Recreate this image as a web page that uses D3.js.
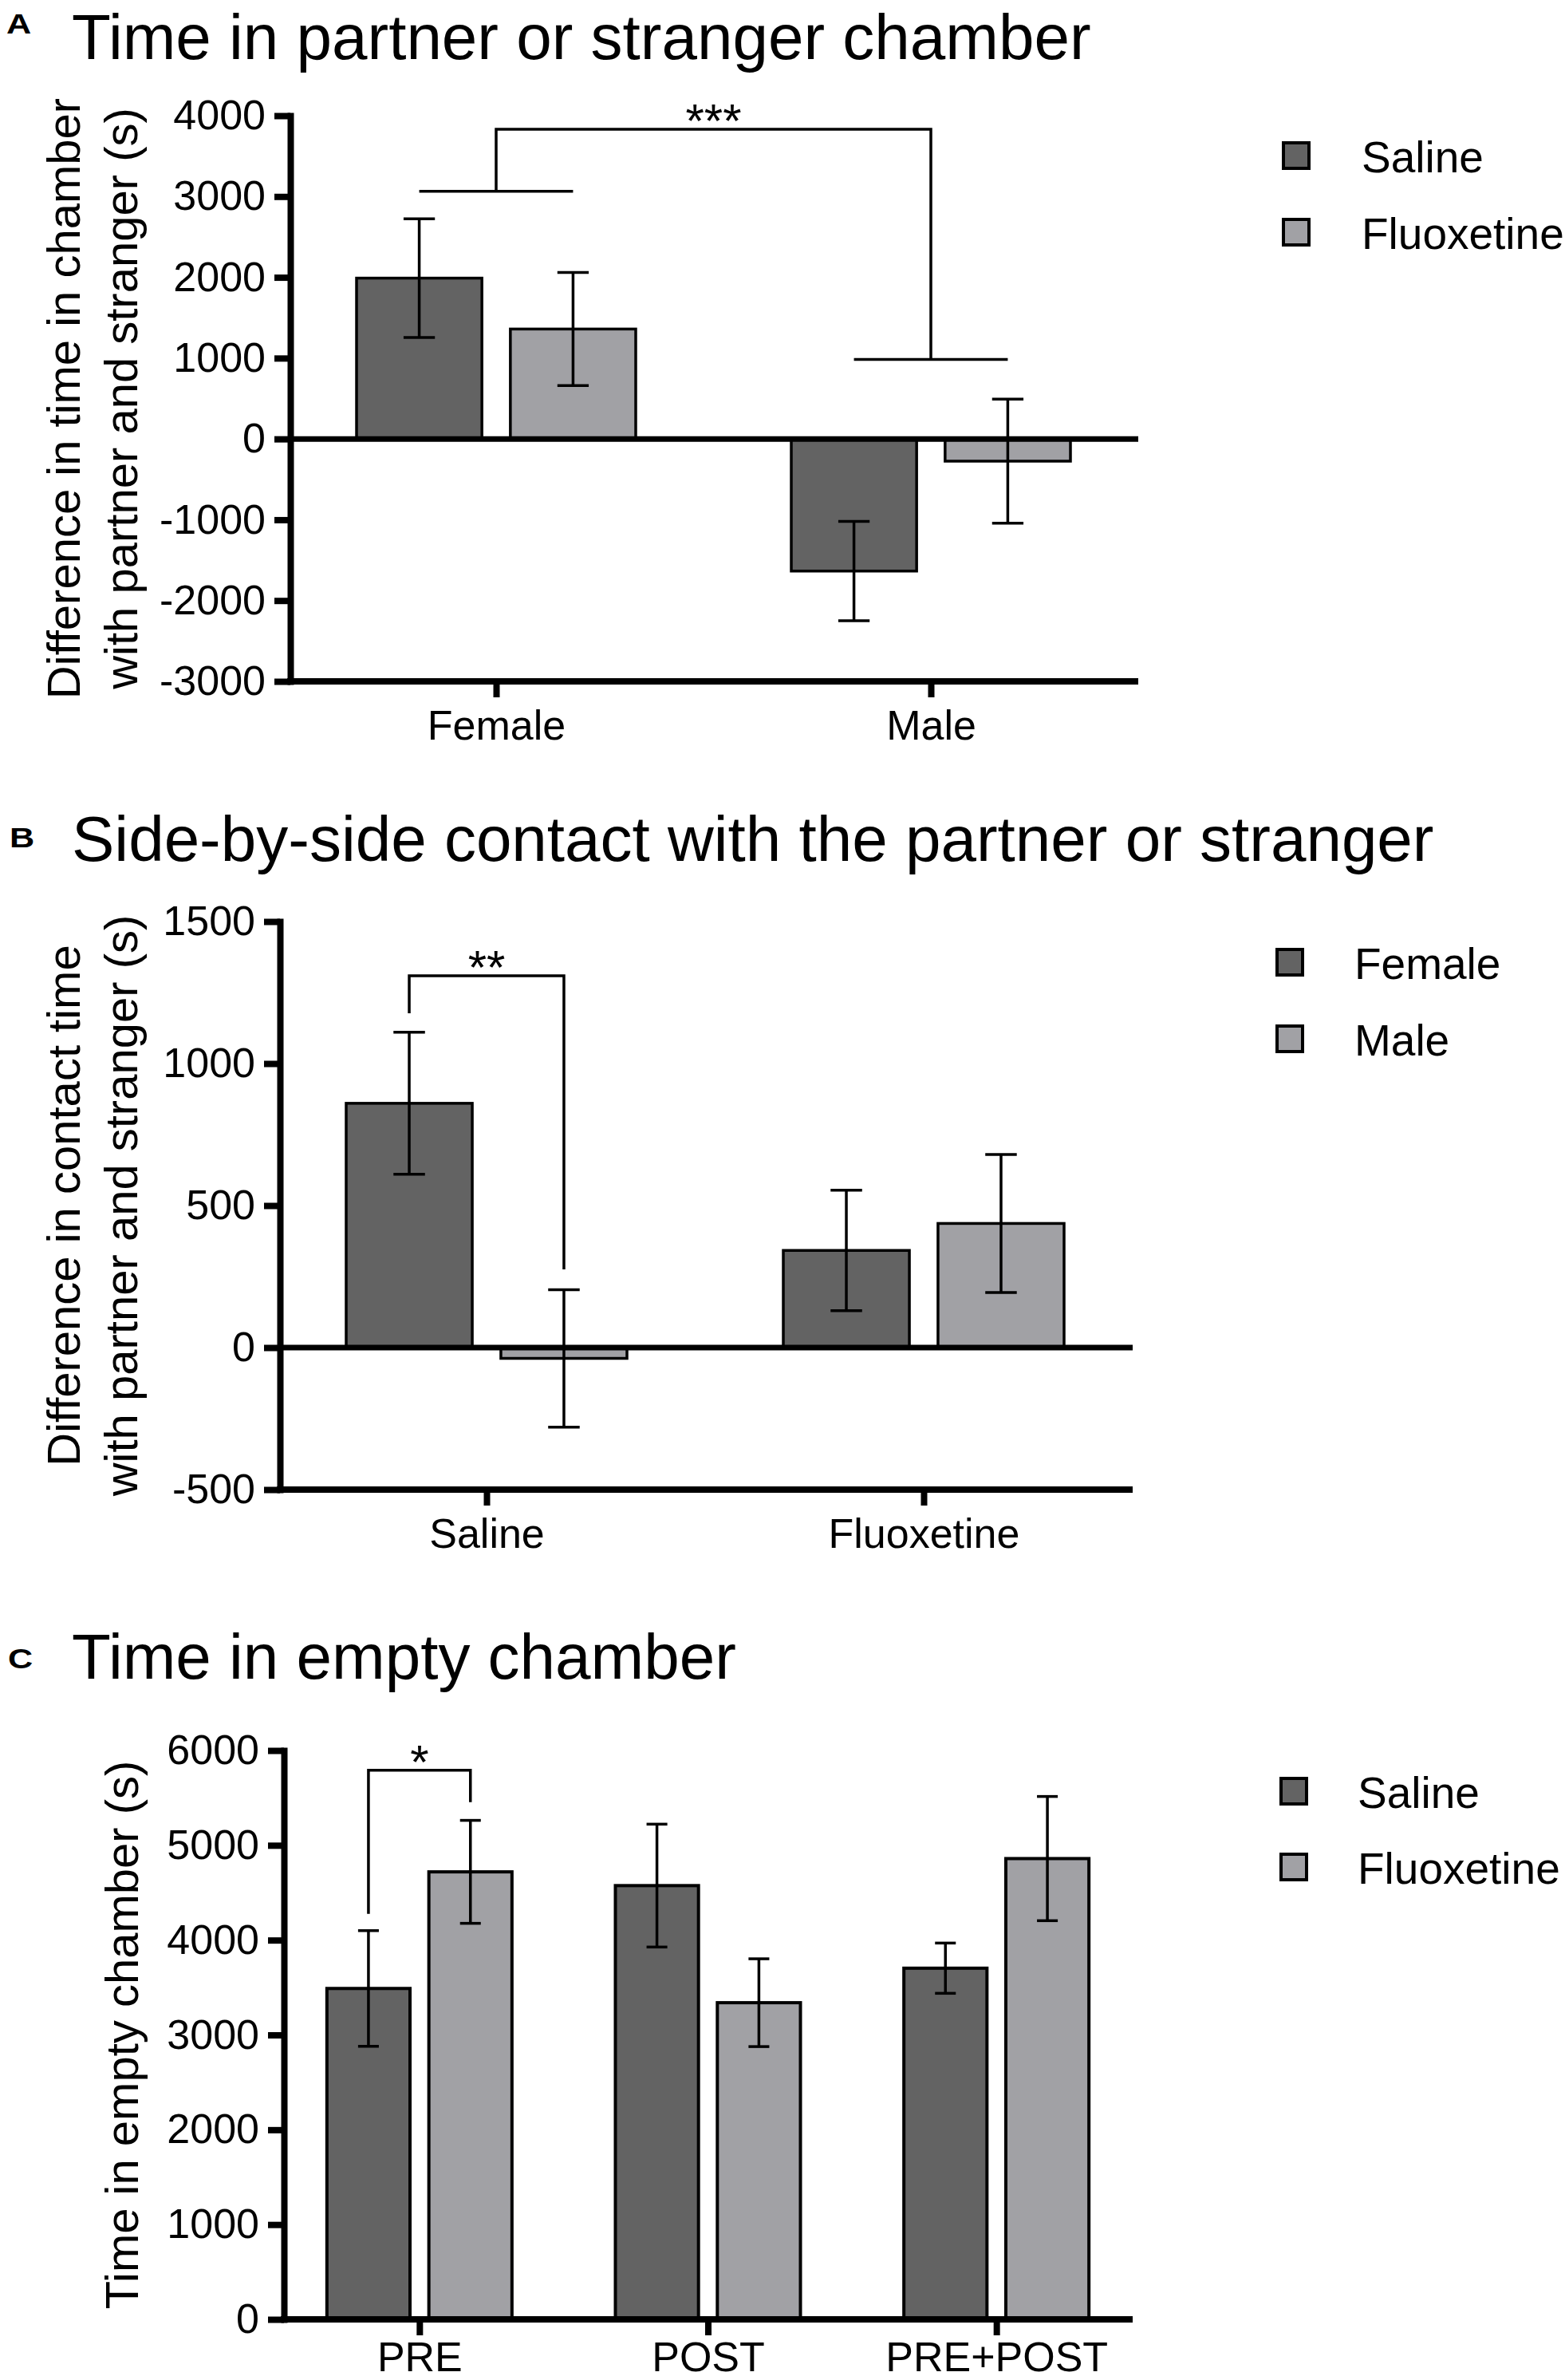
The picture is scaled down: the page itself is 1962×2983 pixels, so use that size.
<!DOCTYPE html>
<html>
<head>
<meta charset="utf-8">
<script src="https://cdn.jsdelivr.net/npm/d3@7"></script>
<style>
  body { margin: 0; background: #fff; }
  svg { display: block; background: #fff; }
  text { font-family: "Liberation Sans", Arial, Helvetica, sans-serif; fill: #000; }
</style>
</head>
<body>
<svg id="chart" width="1962" height="2983"></svg>
<script>
// ---------------- DATA ----------------
// Panel A: Time in partner or stranger chamber
const aCategories = ["Female", "Male"];
const aSeries = ["Saline", "Fluoxetine"];
const aSalineMean = [1990, -1635];
const aSalineSem = [735, 615];
const aFluoxetineMean = [1360, -275];
const aFluoxetineSem = [700, 768];
const aYTicks = [-3000, -2000, -1000, 0, 1000, 2000, 3000, 4000];
const aBracket = [3833, 3064, 985];   // top level, left level, right level
const aStars = "***";

// Panel B: Side-by-side contact
const bCategories = ["Saline", "Fluoxetine"];
const bSeries = ["Female", "Male"];
const bFemaleMean = [860, 342];
const bFemaleSem = [250, 212];
const bMaleMean = [-38, 437];
const bMaleSem = [242, 243];
const bYTicks = [-500, 0, 500, 1000, 1500];
const bBracket = [1309, 1177, 275];
const bStars = "**";

// Panel C: Time in empty chamber
const cCategories = ["PRE", "POST", "PRE+POST"];
const cSeries = ["Saline", "Fluoxetine"];
const cSalineMean = [3490, 4575, 3704];
const cSalineSem = [610, 648, 265];
const cFluoxetineMean = [4720, 3340, 4860];
const cFluoxetineSem = [543, 463, 655];
const cYTicks = [0, 1000, 2000, 3000, 4000, 5000, 6000];
const cBracket = [5791, 4276, 5455];
const cStars = "*";

// ---------------- STYLE / LAYOUT ----------------
const seriesColors = ["#636363", "#a1a1a5"];
const svg = d3.select("#chart");

const panels = [
  {
    tag: "A", tagX: 8, tagY: 42, title: "Time in partner or stranger chamber", titleY: 74,
    categories: aCategories, series: aSeries,
    means: [aSalineMean, aFluoxetineMean], sems: [aSalineSem, aFluoxetineSem],
    ticks: aYTicks, domain: [-3000, 4000], yRange: [854, 145],
    axisX: 364, axisEnd: 1427, xRange: [349.5, 1439.5], groupW: 350, barStroke: 3.5,
    zeroLine: true, xPad: 16,
    ylabel: ["Difference in time in chamber", "with partner and stranger (s)"], ylabelX: [100, 172],
    legendX: 1609, legendY: [195, 291], legendTextX: 1707,
    bracket: aBracket, stars: aStars, bracketType: "groups"
  },
  {
    tag: "B", tagX: 12, tagY: 1062, title: "Side-by-side contact with the partner or stranger", titleY: 1079,
    categories: bCategories, series: bSeries,
    means: [bFemaleMean, bMaleMean], sems: [bFemaleSem, bMaleSem],
    ticks: bYTicks, domain: [-500, 1500], yRange: [1867, 1155],
    axisX: 351, axisEnd: 1420, xRange: [336, 1432], groupW: 352, barStroke: 3.5,
    zeroLine: true, xPad: 16,
    ylabel: ["Difference in contact time", "with partner and stranger (s)"], ylabelX: [100, 172],
    legendX: 1601, legendY: [1206, 1302], legendTextX: 1698,
    bracket: bBracket, stars: bStars, bracketType: "bars"
  },
  {
    tag: "C", tagX: 10, tagY: 2091, title: "Time in empty chamber", titleY: 2104,
    categories: cCategories, series: cSeries,
    means: [cSalineMean, cFluoxetineMean], sems: [cSalineSem, cFluoxetineSem],
    ticks: cYTicks, domain: [0, 6000], yRange: [2907, 2194],
    axisX: 356, axisEnd: 1420, xRange: [345, 1430], groupW: 232, barStroke: 4,
    zeroLine: false, xPad: 8,
    ylabel: ["Time in empty chamber (s)"], ylabelX: [173],
    legendX: 1606, legendY: [2245, 2340], legendTextX: 1702,
    bracket: cBracket, stars: cStars, bracketType: "bars"
  }
];

function drawPanel(p) {
  const g = svg.append("g");
  const y = d3.scaleLinear().domain(p.domain).range(p.yRange);
  const x = d3.scalePoint().domain(p.categories).range(p.xRange).padding(0.5);
  const sub = d3.scaleBand().domain(p.series).range([-p.groupW / 2, p.groupW / 2]).paddingInner(0.185);
  const bw = sub.bandwidth();
  const yBottom = y(p.domain[0]);

  // Panel tag and title
  g.append("text").attr("x", p.tagX).attr("y", p.tagY)
    .attr("font-size", 36).attr("font-weight", "bold")
    .attr("transform", `translate(${p.tagX},0) scale(1.2,1) translate(${-p.tagX},0)`)
    .text(p.tag);
  g.append("text").attr("x", 90).attr("y", p.titleY).attr("font-size", 80).text(p.title);

  // Y-axis label
  const cy = (p.yRange[0] + p.yRange[1]) / 2;
  p.ylabel.forEach((line, i) => {
    g.append("text")
      .attr("transform", `translate(${p.ylabelX[i]},${cy}) rotate(-90)`)
      .attr("text-anchor", "middle").attr("font-size", 58).text(line);
  });

  // Bars
  const rows = [];
  p.categories.forEach((c, ci) => {
    p.series.forEach((s, si) => {
      rows.push({ c, s, si, v: p.means[si][ci], e: p.sems[si][ci] });
    });
  });
  g.append("g").selectAll("rect").data(rows).join("rect")
    .attr("x", d => x(d.c) + sub(d.s))
    .attr("width", bw)
    .attr("y", d => Math.min(y(d.v), y(0)))
    .attr("height", d => Math.abs(y(d.v) - y(0)))
    .attr("fill", d => seriesColors[d.si])
    .attr("stroke", "#000").attr("stroke-width", p.barStroke);

  // Error bars
  const eg = g.append("g").attr("stroke", "#000").attr("stroke-width", 3.5).attr("fill", "none");
  const cap = bw / 4;
  rows.forEach(d => {
    const cx = x(d.c) + sub(d.s) + bw / 2;
    eg.append("line").attr("x1", cx).attr("x2", cx).attr("y1", y(d.v - d.e)).attr("y2", y(d.v + d.e));
    [d.v - d.e, d.v + d.e].forEach(val => {
      eg.append("line").attr("x1", cx - cap / 2).attr("x2", cx + cap / 2).attr("y1", y(val)).attr("y2", y(val));
    });
  });

  // Zero line
  if (p.zeroLine) {
    g.append("line").attr("x1", p.axisX).attr("x2", p.axisEnd)
      .attr("y1", y(0)).attr("y2", y(0)).attr("stroke", "#000").attr("stroke-width", 7);
  }

  // Y axis
  const ya = g.append("g").attr("transform", `translate(${p.axisX},0)`)
    .call(d3.axisLeft(y).tickValues(p.ticks).tickSize(20).tickPadding(11).tickSizeOuter(0).tickFormat(d => String(d)));
  ya.select(".domain").attr("stroke", "#000").attr("stroke-width", 8).attr("stroke-linecap", "square");
  ya.selectAll(".tick line").attr("stroke", "#000").attr("stroke-width", 8);
  ya.selectAll(".tick text").attr("font-size", 52).attr("fill", "#000")
    .attr("font-family", '"Liberation Sans", Arial, sans-serif');

  // X axis (bottom)
  g.append("line").attr("x1", p.axisX - 4).attr("x2", p.axisEnd)
    .attr("y1", yBottom).attr("y2", yBottom).attr("stroke", "#000").attr("stroke-width", 8);
  const xa = g.append("g").attr("transform", `translate(0,${yBottom})`)
    .call(d3.axisBottom(x).tickSize(20).tickPadding(p.xPad).tickSizeOuter(0));
  xa.select(".domain").remove();
  xa.selectAll(".tick line").attr("stroke", "#000").attr("stroke-width", 8);
  xa.selectAll(".tick text").attr("font-size", 52).attr("fill", "#000")
    .attr("font-family", '"Liberation Sans", Arial, sans-serif');

  // Significance bracket
  const bg = g.append("g").attr("stroke", "#000").attr("stroke-width", 3.5).attr("fill", "none");
  let starX;
  if (p.bracketType === "groups") {
    const x1 = x(p.categories[0]), x2 = x(p.categories[1]);
    bg.append("path").attr("d",
      `M${x1},${y(p.bracket[1])}V${y(p.bracket[0])}H${x2}V${y(p.bracket[2])}`);
    p.categories.forEach((c, i) => {
      const lv = p.bracket[i + 1];
      const l = x(c) + sub(p.series[0]) + bw / 2;
      const r = x(c) + sub(p.series[1]) + bw / 2;
      bg.append("line").attr("x1", l).attr("x2", r).attr("y1", y(lv)).attr("y2", y(lv));
    });
    starX = (x1 + x2) / 2;
  } else {
    const c0 = p.categories[0];
    const x1 = x(c0) + sub(p.series[0]) + bw / 2;
    const x2 = x(c0) + sub(p.series[1]) + bw / 2;
    bg.append("path").attr("d",
      `M${x1},${y(p.bracket[1])}V${y(p.bracket[0])}H${x2}V${y(p.bracket[2])}`);
    starX = (x1 + x2) / 2;
  }
  g.append("text").attr("x", starX).attr("y", y(p.bracket[0]) + 10)
    .attr("text-anchor", "middle").attr("font-size", 60).text(p.stars);

  // Legend
  p.series.forEach((s, i) => {
    g.append("rect").attr("x", p.legendX).attr("y", p.legendY[i] - 16)
      .attr("width", 32).attr("height", 32)
      .attr("fill", seriesColors[i]).attr("stroke", "#000").attr("stroke-width", 4);
    g.append("text").attr("x", p.legendTextX).attr("y", p.legendY[i]).attr("dy", "0.38em")
      .attr("font-size", 55).text(s);
  });
}

panels.forEach(drawPanel);
</script>
</body>
</html>
